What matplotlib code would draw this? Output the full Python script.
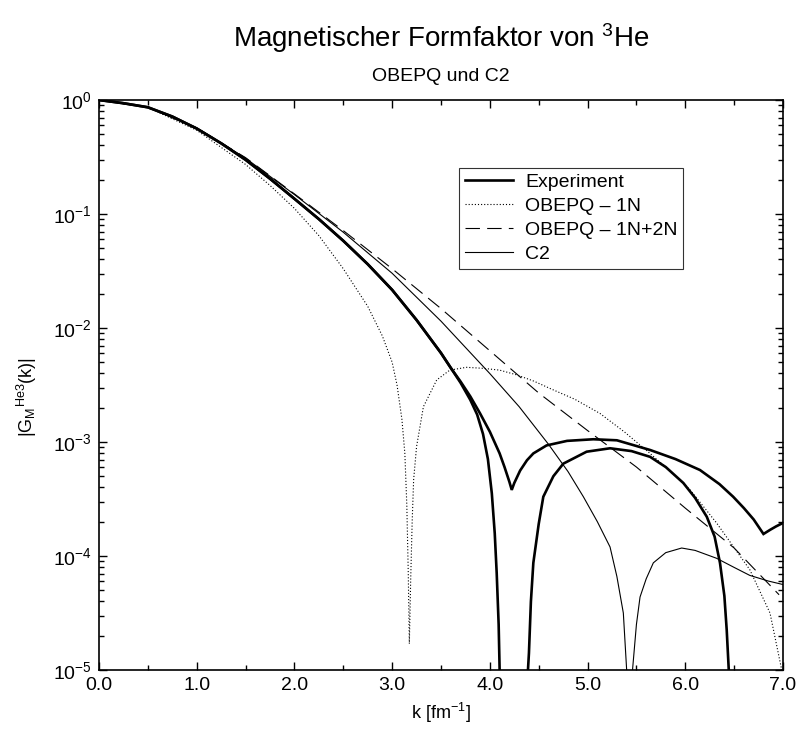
import matplotlib
matplotlib.use("Agg")
import matplotlib.pyplot as plt
from matplotlib.ticker import LogLocator, MultipleLocator, FormatStrFormatter, NullFormatter

plt.rcParams['font.family'] = ['Liberation Sans', 'DejaVu Sans']
plt.rcParams['mathtext.fontset'] = 'custom'
plt.rcParams['mathtext.rm'] = 'Liberation Sans'
plt.rcParams['mathtext.it'] = 'Liberation Sans:italic'
plt.rcParams['mathtext.bf'] = 'Liberation Sans:bold'
plt.rcParams['mathtext.sf'] = 'Liberation Sans'

# ---- data ----
exp_a_k = [0.0, 0.25, 0.5, 0.75, 1.0, 1.25, 1.5, 1.75, 2.0, 2.25, 2.5, 2.75, 3.0, 3.25, 3.5,
           3.6, 3.7, 3.8, 3.9, 4.0, 4.1, 4.15, 4.2, 4.224, 4.25, 4.31, 4.38, 4.445, 4.58,
           4.79, 5.06, 5.3, 5.64, 5.9, 6.15, 6.35, 6.49, 6.6, 6.7, 6.8, 6.87, 6.93, 7.0]
exp_a_g = [1.0, 0.937, 0.863, 0.716, 0.562, 0.417, 0.299, 0.204, 0.136, 0.0902, 0.0582, 0.0363,
           0.0216, 0.01175, 0.00603, 0.00447, 0.00339, 0.00251, 0.00178, 0.00123, 7.94e-4,
           6.03e-4, 4.47e-4, 3.80e-4, 4.37e-4, 5.62e-4, 6.92e-4, 7.94e-4, 9.33e-4, 1.023e-3,
           1.057e-3, 1.035e-3, 8.51e-4, 7.08e-4, 5.68e-4, 4.27e-4, 3.31e-4, 2.63e-4, 2.09e-4,
           1.56e-4, 1.70e-4, 1.82e-4, 1.95e-4]

exp_b_k = [0.0, 0.25, 0.5, 0.75, 1.0, 1.25, 1.5, 1.75, 2.0, 2.25, 2.5, 2.75, 3.0, 3.25, 3.5,
           3.6, 3.7, 3.8, 3.87, 3.93, 3.98, 4.02, 4.05, 4.07, 4.09, 4.10, 4.24, 4.39, 4.40,
           4.42, 4.445, 4.5, 4.547, 4.65, 4.752, 4.99, 5.23, 5.45, 5.64, 5.8, 5.98, 6.1, 6.22,
           6.3, 6.355, 6.4, 6.424, 6.445, 6.46]
exp_b_g = [1.0, 0.937, 0.863, 0.716, 0.562, 0.417, 0.299, 0.204, 0.136, 0.0902, 0.0582, 0.0363,
           0.0216, 0.01175, 0.00603, 0.00447, 3.31e-3, 2.34e-3, 1.74e-3, 1.175e-3, 7.08e-4,
           3.55e-4, 1.58e-4, 7.08e-5, 2.51e-5, 1.0e-5, 1e-7, 1.0e-5, 1.41e-5, 3.98e-5, 8.71e-5,
           1.91e-4, 3.31e-4, 5.01e-4, 6.46e-4, 8.22e-4, 8.81e-4, 8.32e-4, 7.41e-4, 6.03e-4,
           4.37e-4, 3.24e-4, 2.21e-4, 1.48e-4, 8.71e-5, 4.47e-5, 2.24e-5, 1.0e-5, 1e-7]

obe1_k = [0.0, 0.5, 1.0, 1.5, 1.75, 2.0, 2.25, 2.5, 2.75, 2.9, 3.0, 3.05, 3.1, 3.13, 3.15,
          3.165, 3.176, 3.19, 3.205, 3.22, 3.25, 3.32, 3.456, 3.59, 3.76, 3.93, 4.1, 4.27,
          4.45, 4.615, 4.87, 5.127, 5.38, 5.639, 5.85, 6.05, 6.32, 6.66, 6.867, 6.987, 7.0]
obe1_g = [1.0, 0.863, 0.543, 0.272, 0.178, 0.112, 0.0646, 0.0331, 0.0155, 8.51e-3, 5.01e-3,
          3.16e-3, 1.58e-3, 7.94e-4, 2.82e-4, 7.08e-5, 1.70e-5, 6.31e-5, 2.0e-4, 4.68e-4,
          9.12e-4, 2.04e-3, 3.50e-3, 4.27e-3, 4.52e-3, 4.43e-3, 4.27e-3, 3.89e-3,
          3.42e-3, 2.95e-3, 2.37e-3, 1.78e-3, 1.22e-3, 7.94e-4, 5.50e-4, 3.80e-4, 1.95e-4,
          7.59e-5, 3.16e-5, 1.0e-5, 7.9e-6]

obe2_k = [0.0, 0.5, 1.0, 1.5, 2.0, 2.5, 3.0, 3.5, 4.0, 4.5, 5.0, 5.5, 6.0, 6.5, 6.96]
obe2_g = [1.0, 0.863, 0.569, 0.312, 0.150, 0.0715, 0.0331, 0.0148, 6.31e-3, 2.69e-3,
          1.26e-3, 6.03e-4, 2.63e-4, 1.175e-4, 4.57e-5]

c2_k = [0.0, 0.5, 1.0, 1.5, 2.0, 2.5, 3.0, 3.5, 4.0, 4.3, 4.6, 4.8, 4.957, 5.1, 5.23, 5.3,
        5.366, 5.40, 5.43, 5.46, 5.5, 5.537, 5.6, 5.673, 5.8, 5.963, 6.1, 6.32, 6.5, 6.66,
        6.85, 7.0]
c2_g = [1.0, 0.863, 0.569, 0.309, 0.148, 0.0692, 0.0302, 0.01148, 3.98e-3, 2.04e-3, 9.55e-4,
        5.50e-4, 3.31e-4, 2.0e-4, 1.20e-4, 6.61e-5, 3.16e-5, 1.0e-5, 1e-7, 1.0e-5, 2.51e-5,
        4.37e-5, 6.31e-5, 8.71e-5, 1.07e-4, 1.175e-4, 1.12e-4, 9.55e-5, 7.94e-5, 6.76e-5,
        6.03e-5, 5.62e-5]

labels = ["Experiment", "OBEPQ – 1N", "OBEPQ – 1N+2N", "C2"]
x_ticks = [0, 1, 2, 3, 4, 5, 6, 7]

fig = plt.figure(figsize=(8, 7.29), dpi=100)
ax = fig.add_axes([99/800, 1-670/729, 684/800, 570/729])

ax.plot(exp_a_k, exp_a_g, color='black', lw=1.9, label=labels[0], solid_joinstyle='miter')
ax.plot(exp_b_k, exp_b_g, color='black', lw=1.9)
ax.plot(obe1_k, obe1_g, color='black', lw=0.8, linestyle=(0, (1, 1.8)), label=labels[1])
ax.plot(obe2_k, obe2_g, color='black', lw=0.8, linestyle=(0, (13, 6.5)), label=labels[2])
ax.plot(c2_k, c2_g, color='black', lw=0.8, label=labels[3])

ax.set_yscale('log')
ax.set_xlim(0, 7)
ax.set_ylim(1e-5, 1)
ax.set_xticks(x_ticks)
ax.xaxis.set_major_formatter(FormatStrFormatter('%.1f'))
ax.xaxis.set_minor_locator(MultipleLocator(0.5))
ax.yaxis.set_major_locator(LogLocator(base=10, numticks=10))
ax.yaxis.set_minor_locator(LogLocator(base=10, subs=range(2, 10), numticks=10))
ax.yaxis.set_minor_formatter(NullFormatter())
ax.tick_params(which='both', direction='in', top=True, right=True, labelsize=14)
ax.tick_params(which='major', length=6, width=1, pad=5)
ax.tick_params(which='minor', length=3.5, width=1)
for s in ax.spines.values():
    s.set_linewidth(1.2)

ax.set_xlabel(r'k [fm$^{-1}$]', fontsize=13)
ax.xaxis.set_label_coords(0.5, -(713 - 670) / 570)
ax.xaxis.label.set_va('center')
ax.set_ylabel(r'$|\mathrm{G_M}^{\mathrm{He3}}(\mathrm{k})|$', fontsize=13)
ax.yaxis.set_label_coords((27 - 99) / 684, 1 - (397 - 100) / 570)
ax.yaxis.label.set_va('center')

fig.text(441/800, 1-38/729, r'Magnetischer Formfaktor von $^{3}$He', ha='center', va='center', fontsize=20)
fig.text(441/800, 1-76.5/729, 'OBEPQ und C2', ha='center', va='center', fontsize=14)

leg = ax.legend(loc='upper left', bbox_to_anchor=(0.526, 0.881), borderaxespad=0,
                fontsize=14, frameon=True, fancybox=False, handlelength=2.5,
                labelspacing=0.32, borderpad=0.3, handletextpad=0.6)
leg.get_frame().set_edgecolor('black')
leg.get_frame().set_linewidth(0.8)

fig.savefig('out.png', dpi=100)
